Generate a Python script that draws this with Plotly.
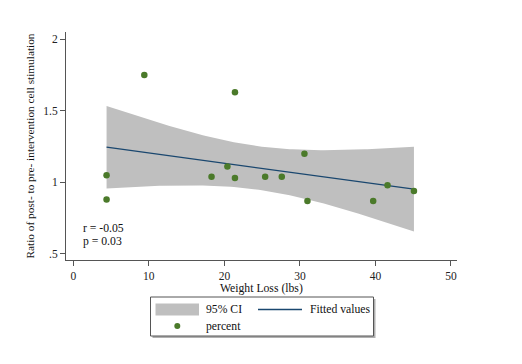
import numpy as np
import plotly.graph_objects as go

# Data
weight_loss = [4.4, 4.4, 9.4, 18.3, 20.4, 21.4, 21.4, 25.4, 27.6, 30.6, 31.0, 39.7, 41.6, 45.1]
ratio = [1.05, 0.88, 1.75, 1.04, 1.11, 1.63, 1.03, 1.04, 1.04, 1.20, 0.87, 0.87, 0.98, 0.94]
x_ticks = [0, 10, 20, 30, 40, 50]
y_ticks = [0.5, 1, 1.5, 2]
y_tick_labels = [".5", "1", "1.5", "2"]
stats_text = ["r = -0.05", "p = 0.03"]

# Linear fit with 95% CI of the mean prediction (as Stata lfitci)
x = np.array(weight_loss)
y = np.array(ratio)
n = len(x)
slope, intercept = np.polyfit(x, y, 1)
resid = y - (intercept + slope * x)
s = np.sqrt(np.sum(resid ** 2) / (n - 2))
sxx = np.sum((x - x.mean()) ** 2)
t_crit = 2.178813  # t(0.975, df=12)
xg = np.linspace(x.min(), x.max(), 100)
yg = intercept + slope * xg
se = s * np.sqrt(1 / n + (xg - x.mean()) ** 2 / sxx)
upper = yg + t_crit * se
lower = yg - t_crit * se

FONT = "Liberation Serif"
FS = 11.7
TXT = "#111"
CI_COLOR = "#bfbfbf"
LINE_COLOR = "#1a476f"
DOT_COLOR = "#4b7a2a"

# page has an 8px body margin; figure sized to fill the rest of the window
OFF = 8
W, H = 522 - OFF, 364 - OFF
# target plot area in page pixels
X0, X1, Y0, Y1 = 66, 457, 32, 260
L, R, T, B = X0 - OFF, W + OFF - X1, Y0 - OFF, H + OFF - Y1
PW, PH = X1 - X0, Y1 - Y0

fig = go.Figure()
fig.add_trace(go.Scatter(x=xg, y=lower, mode="lines", line=dict(width=0),
                         showlegend=False, hoverinfo="skip"))
fig.add_trace(go.Scatter(x=xg, y=upper, mode="lines", line=dict(width=0),
                         fill="tonexty", fillcolor=CI_COLOR, name="95% CI",
                         showlegend=False))
fig.add_trace(go.Scatter(x=xg, y=yg, mode="lines",
                         line=dict(color=LINE_COLOR, width=1.3),
                         name="Fitted values", showlegend=False))
fig.add_trace(go.Scatter(x=weight_loss, y=ratio, mode="markers",
                         marker=dict(color=DOT_COLOR, size=6.5),
                         name="percent", showlegend=False))

# page pixel -> paper (plot-area) coords
def px(xp):
    return (xp - X0) / PW
def py(yp):
    return (Y1 - yp) / PH

# stats annotation
fig.add_annotation(x=px(81), y=py(228), xref="paper", yref="paper", text=stats_text[0],
                   showarrow=False, xanchor="left", yanchor="middle",
                   font=dict(family=FONT, size=FS, color=TXT))
fig.add_annotation(x=px(81), y=py(241.5), xref="paper", yref="paper", text=stats_text[1],
                   showarrow=False, xanchor="left", yanchor="middle",
                   font=dict(family=FONT, size=FS, color=TXT))

# x axis title
fig.add_annotation(x=0.5, y=py(288.5), xref="paper", yref="paper",
                   text="Weight Loss (lbs)", showarrow=False,
                   xanchor="center", yanchor="middle",
                   font=dict(family=FONT, size=FS, color=TXT))

# Legend drawn manually (Stata style box)
fig.add_shape(type="rect", xref="paper", yref="paper",
              x0=px(152.5), x1=px(375.5), y0=py(299), y1=py(338),
              line=dict(width=0), fillcolor="#b0b0b0", layer="below")
fig.add_shape(type="rect", xref="paper", yref="paper",
              x0=px(150.5), x1=px(373.5), y0=py(297), y1=py(336),
              line=dict(width=1, color="#555"), fillcolor="white", layer="below")
fig.add_shape(type="rect", xref="paper", yref="paper",
              x0=px(155.5), x1=px(199), y0=py(303.5), y1=py(315.5),
              line=dict(width=0), fillcolor=CI_COLOR)
fig.add_shape(type="line", xref="paper", yref="paper",
              x0=px(258), x1=px(302), y0=py(309.5), y1=py(309.5),
              line=dict(width=1.3, color=LINE_COLOR))
fig.add_shape(type="circle", xref="paper", yref="paper",
              x0=px(174.3), x1=px(180.3), y0=py(323), y1=py(329),
              line=dict(width=0), fillcolor=DOT_COLOR)
for txt, xp, yp in [("95% CI", 204, 309.5), ("Fitted values", 307.5, 309.5),
                    ("percent", 204, 326)]:
    fig.add_annotation(x=px(xp), y=py(yp), xref="paper", yref="paper",
                       text=txt, showarrow=False, xanchor="left", yanchor="middle",
                       font=dict(family=FONT, size=FS, color=TXT))

axis_common = dict(showgrid=False, zeroline=False, showline=True, automargin=False,
                   linecolor="#555", linewidth=1, ticks="outside", ticklen=5,
                   tickcolor="#555", tickwidth=1,
                   tickfont=dict(family=FONT, size=11.5, color="#222"))

fig.update_layout(
    width=W, height=H,
    margin=dict(l=L, r=R, t=T, b=B),
    paper_bgcolor="white", plot_bgcolor="white",
    showlegend=False,
    xaxis=dict(range=[-0.97, 50.8], tickvals=x_ticks, **axis_common),
    yaxis=dict(range=[0.458, 2.05], tickvals=y_ticks, ticktext=y_tick_labels,
               title=dict(text="Ratio of post- to pre- intervention cell stimulation",
                          standoff=6, font=dict(family=FONT, size=11.3, color=TXT)),
               **axis_common),
)

fig.write_html("out.html")
